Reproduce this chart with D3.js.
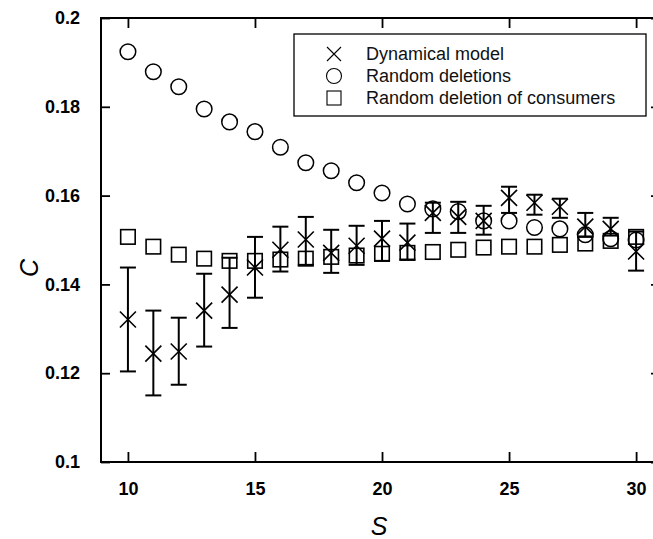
<!DOCTYPE html>
<html>
<head>
<meta charset="utf-8">
<script src="https://cdn.jsdelivr.net/npm/d3@7"></script>
<style>
  body { margin: 0; background: #fff; }
  svg { display: block; font-family: "Liberation Sans", Arial, sans-serif; }
</style>
</head>
<body>
<svg id="chart" width="653" height="539"></svg>
<script>
// Data
const sizes = [10, 11, 12, 13, 14, 15, 16, 17, 18, 19, 20, 21, 22, 23, 24, 25, 26, 27, 28, 29, 30];

const dynMean  = [0.1321, 0.1244, 0.1249, 0.1341, 0.1377, 0.1438, 0.1478, 0.1501, 0.1471, 0.1487, 0.1503,
                  0.1494, 0.1561, 0.1552, 0.1543, 0.1595, 0.1584, 0.1575, 0.1530, 0.1525, 0.1474];
const dynUpper = [0.1438, 0.1341, 0.1325, 0.1424, 0.1460, 0.1507, 0.1530, 0.1552, 0.1523, 0.1532, 0.1543,
                  0.1537, 0.1584, 0.1586, 0.1577, 0.1620, 0.1602, 0.1593, 0.1561, 0.1550, 0.1519];
const dynLower = [0.1204, 0.1150, 0.1174, 0.1260, 0.1302, 0.1370, 0.1429, 0.1444, 0.1426, 0.1444, 0.1453,
                  0.1456, 0.1516, 0.1516, 0.1512, 0.1561, 0.1557, 0.1550, 0.1507, 0.1510, 0.1431];

const randomDel = [0.1924, 0.1879, 0.1845, 0.1795, 0.1766, 0.1744, 0.1709, 0.1674, 0.1656, 0.1629, 0.1606,
                   0.1581, 0.1570, 0.1564, 0.1543, 0.1543, 0.1528, 0.1525, 0.1512, 0.1503, 0.1500];

const consumerDel = [0.1507, 0.1485, 0.1467, 0.1458, 0.1453, 0.1453, 0.1456, 0.1458, 0.1462, 0.1465, 0.1469,
                     0.1471, 0.1473, 0.1478, 0.1483, 0.1485, 0.1485, 0.1489, 0.1492, 0.1498, 0.1507];

const xTicks = [10, 15, 20, 25, 30];
const yTicks = [0.1, 0.12, 0.14, 0.16, 0.18, 0.2];
const legendLabels = ["Dynamical model", "Random deletions", "Random deletion of consumers"];

// Plot frame
const plotLeft = 101, plotRight = 661, plotTop = 18, plotBottom = 462;

const svg = d3.select("#chart");

const x = d3.scaleLinear().domain([8.94, 30.98]).range([plotLeft, plotRight]);
const y = d3.scaleLinear().domain([0.1, 0.2]).range([plotBottom, plotTop]);

// Frame lines
svg.append("rect")
   .attr("x", plotLeft)
   .attr("y", plotTop)
   .attr("width", plotRight - plotLeft)
   .attr("height", plotBottom - plotTop)
   .attr("fill", "none")
   .attr("stroke", "#000")
   .attr("stroke-width", 2);

// Axes with inward ticks
const xAxisBottom = d3.axisBottom(x).tickValues(xTicks).tickSize(-10).tickPadding(20).tickFormat(d3.format("d"));
const xAxisTop = d3.axisTop(x).tickValues(xTicks).tickSize(-10).tickFormat("");
const yAxisLeft = d3.axisLeft(y).tickValues(yTicks).tickSize(-9).tickPadding(21).tickFormat(d => String(+d.toFixed(2)));
const yAxisRight = d3.axisRight(y).tickValues(yTicks).tickSize(-10).tickFormat("");

function styleAxis(g) {
  g.select(".domain").remove();
  g.selectAll(".tick line").attr("stroke", "#000").attr("stroke-width", 1.8);
  g.selectAll(".tick text")
   .attr("fill", "#000")
   .style("font-size", "18px")
   .style("font-weight", "bold")
   .style("font-family", "'Liberation Sans', Arial, sans-serif");
}

svg.append("g").attr("transform", `translate(0,${plotBottom})`).call(xAxisBottom).call(styleAxis);
svg.append("g").attr("transform", `translate(0,${plotTop})`).call(xAxisTop).call(styleAxis);
svg.append("g").attr("transform", `translate(${plotLeft},0)`).call(yAxisLeft).call(styleAxis);
svg.append("g").attr("transform", `translate(${plotRight},0)`).call(yAxisRight).call(styleAxis);

// Axis titles
svg.append("text")
   .attr("x", x(20) - 3)
   .attr("y", 535)
   .attr("text-anchor", "middle")
   .style("font-size", "25px")
   .style("font-style", "italic")
   .text("S");

svg.append("text")
   .attr("transform", "translate(38,268) rotate(-90)")
   .attr("text-anchor", "middle")
   .style("font-size", "25px")
   .style("font-style", "italic")
   .text("C");

const plot = svg.append("g");

// Random deletion of consumers: squares
const sq = 14.5;
plot.selectAll("rect.cons")
    .data(sizes)
    .join("rect")
    .attr("class", "cons")
    .attr("x", d => x(d) - sq / 2)
    .attr("y", (d, i) => y(consumerDel[i]) - sq / 2)
    .attr("width", sq)
    .attr("height", sq)
    .attr("fill", "none")
    .attr("stroke", "#000")
    .attr("stroke-width", 1.6);

// Random deletions: circles
plot.selectAll("circle.rand")
    .data(sizes)
    .join("circle")
    .attr("class", "rand")
    .attr("cx", d => x(d))
    .attr("cy", (d, i) => y(randomDel[i]))
    .attr("r", 7.8)
    .attr("fill", "none")
    .attr("stroke", "#000")
    .attr("stroke-width", 1.5);

// Dynamical model: error bars and crosses
const cap = 8, half = 8;
const dyn = plot.selectAll("g.dyn")
    .data(sizes)
    .join("g")
    .attr("class", "dyn")
    .attr("stroke", "#000");

dyn.append("line")
   .attr("x1", d => x(d)).attr("x2", d => x(d))
   .attr("y1", (d, i) => y(dynUpper[i]))
   .attr("y2", (d, i) => y(dynLower[i]))
   .attr("stroke-width", 2);

dyn.append("line")
   .attr("x1", d => x(d) - cap).attr("x2", d => x(d) + cap)
   .attr("y1", (d, i) => y(dynUpper[i])).attr("y2", (d, i) => y(dynUpper[i]))
   .attr("stroke-width", 2);

dyn.append("line")
   .attr("x1", d => x(d) - cap).attr("x2", d => x(d) + cap)
   .attr("y1", (d, i) => y(dynLower[i])).attr("y2", (d, i) => y(dynLower[i]))
   .attr("stroke-width", 2);

dyn.append("path")
   .attr("d", (d, i) => {
     let cx = x(d), cy = y(dynMean[i]);
     return `M${cx - half},${cy - half}L${cx + half},${cy + half}M${cx - half},${cy + half}L${cx + half},${cy - half}`;
   })
   .attr("fill", "none")
   .attr("stroke-width", 1.6);

// Legend
const legend = svg.append("g");
legend.append("rect")
      .attr("x", 294)
      .attr("y", 34)
      .attr("width", 352)
      .attr("height", 82)
      .attr("fill", "#fff")
      .attr("stroke", "#000")
      .attr("stroke-width", 1.3);

const rowY = [54, 76, 98];
const symX = 334;

legend.append("path")
      .attr("d", `M${symX - 7},${rowY[0] - 7}L${symX + 7},${rowY[0] + 7}M${symX - 7},${rowY[0] + 7}L${symX + 7},${rowY[0] - 7}`)
      .attr("stroke", "#000")
      .attr("stroke-width", 1.1)
      .attr("fill", "none");

legend.append("circle")
      .attr("cx", symX)
      .attr("cy", rowY[1])
      .attr("r", 7.5)
      .attr("fill", "none")
      .attr("stroke", "#000")
      .attr("stroke-width", 1.1);

legend.append("rect")
      .attr("x", symX - 7)
      .attr("y", rowY[2] - 7)
      .attr("width", 14)
      .attr("height", 14)
      .attr("fill", "none")
      .attr("stroke", "#000")
      .attr("stroke-width", 1.1);

legend.selectAll("text")
      .data(legendLabels)
      .join("text")
      .attr("x", 366)
      .attr("y", (d, i) => rowY[i])
      .attr("dy", "0.35em")
      .style("font-size", "18px")
      .attr("fill", "#111")
      .text(d => d);
</script>
</body>
</html>
